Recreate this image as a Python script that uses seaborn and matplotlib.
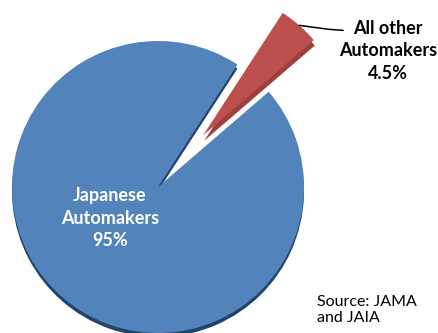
import matplotlib
matplotlib.use("Agg")
import numpy as np
import matplotlib.pyplot as plt
import seaborn as sns

# ---- data ----
categories = ["Japanese\nAutomakers", "All other\nAutomakers"]
shares = [95, 4.5]
share_labels = ["95%", "4.5%"]
source_text = "Source: JAMA\nand JAIA"

# ---- style ----
face_colors = ["#5283BB", "#BD504E"]
side_colors = ["#22446B", "#9C3F3D"]
explode_frac = [0.0, 0.47]
start_angle = 57

sns.set_theme(style="white")
plt.rcParams["font.family"] = ["Lato", "DejaVu Sans"]

W, H = 438, 333
fig = plt.figure(figsize=(W / 100, H / 100), dpi=100)
ax = fig.add_axes([0, 0, 1, 1])

cx, cy = 158, H - 187
R = 146
explode = [e * R for e in explode_frac]

# side (depth) layer
side_wedges, _ = ax.pie(shares, explode=explode, colors=side_colors,
                        startangle=start_angle, radius=R, center=(cx, cy - 4),
                        wedgeprops=dict(linewidth=0))
c = side_wedges[1].center
side_wedges[1].set_center((c[0] + 1, c[1] - 1.5))

# top face
wedges, _ = ax.pie(shares, explode=explode, colors=face_colors,
                   startangle=start_angle, radius=R, center=(cx, cy),
                   wedgeprops=dict(linewidth=0))

ax.set_xlim(0, W)
ax.set_ylim(0, H)
ax.set_aspect("equal")
ax.axis("off")

# labels
ax.text(110, H - 218, categories[0] + "\n" + share_labels[0], color="white",
        fontsize=13, fontweight="bold", ha="center", va="center",
        linespacing=1.38)
ax.text(388, H - 51, categories[1] + "\n" + share_labels[1], color="black",
        fontsize=13, fontweight="bold", ha="center", va="center",
        linespacing=1.38)

# leader line from middle of the red wedge's outer arc to its label
w = wedges[1]
mid = np.deg2rad((w.theta1 + w.theta2) / 2)
ox, oy = w.center
px, py = ox + R * np.cos(mid), oy + R * np.sin(mid)
ax.plot([px, px + 30, px + 44], [py, py - 4, py - 5], color="black", lw=1.1)

ax.text(317, H - 295, source_text, color="black", fontsize=11.5,
        ha="left", va="top", linespacing=1.2)

fig.savefig("out.png", dpi=100)
